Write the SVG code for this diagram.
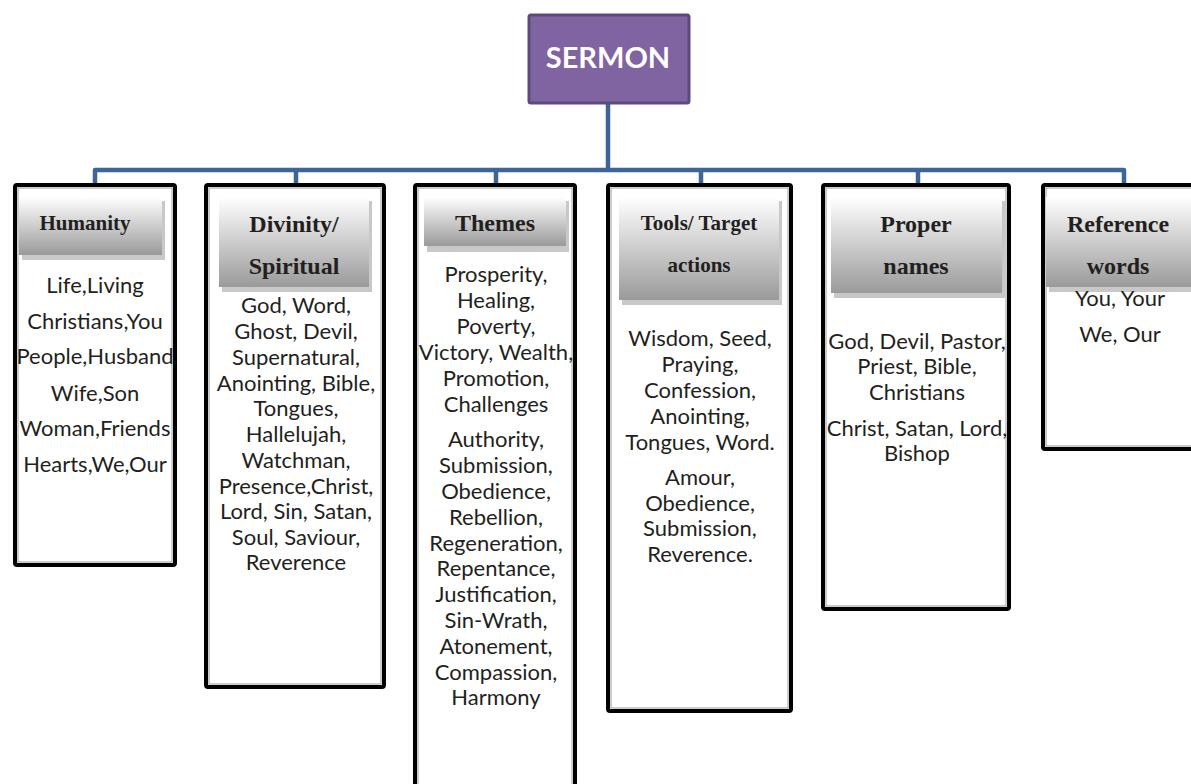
<svg xmlns="http://www.w3.org/2000/svg" width="1191" height="784" viewBox="0 0 1191 784">
<defs>
<linearGradient id="hg" x1="0" y1="0" x2="0" y2="1">
<stop offset="0" stop-color="#ffffff"/>
<stop offset="1" stop-color="#9a9a9a"/>
</linearGradient>
<style>
.box{fill:#fff;stroke:#000;stroke-width:4}
.inner{fill:none;stroke:#999;stroke-width:1}
.hdr{fill:url(#hg)}
.sh{fill:#c8c8c8}
.ht{font-family:"Liberation Serif",serif;font-weight:bold;font-size:24px;fill:#231f20;text-anchor:middle}
.hs{font-size:21px}
.bt{font-family:Lato,"Open Sans",sans-serif;font-size:22px;fill:#231f20;text-anchor:middle}
.con{fill:none;stroke:#3d6697;stroke-width:4.5;stroke-linejoin:round}
</style>
</defs>
<rect width="1191" height="784" fill="#fff"/>
<g id="connectors">
<path class="con" d="M608 104 V170"/>
<path class="con" d="M95 184 V170 H1124 V184"/>
<path class="con" d="M296 170 V184 M496 170 V184 M701 170 V184 M918 170 V184"/>
</g>
<g id="sermon">
<rect x="529" y="15" width="160" height="88" rx="2" fill="#8064a2" stroke="#5c4a7d" stroke-width="3"/>
<text x="608" y="68" font-family="Lato,'Open Sans',sans-serif" font-weight="bold" font-size="29" fill="#fff" text-anchor="middle">SERMON</text>
</g>
<g id="humanity">
<rect class="box" x="15" y="185" width="160" height="380" rx="2"/>
<rect class="inner" x="18" y="188" width="154" height="374"/>
<rect class="sh" x="22" y="201" width="143" height="59"/>
<rect class="hdr" x="19" y="197" width="143" height="58"/>
<text class="ht hs" x="85" y="230">Humanity</text>
<text class="bt" x="95" y="293">Life,Living</text>
<text class="bt" x="95" y="329">Christians,You</text>
<text class="bt" x="95" y="364">People,Husband</text>
<text class="bt" x="95" y="401">Wife,Son</text>
<text class="bt" x="95" y="436">Woman,Friends</text>
<text class="bt" x="95" y="472">Hearts,We,Our</text>
</g>
<g id="divinity">
<rect class="box" x="206" y="185" width="178" height="502" rx="2"/>
<rect class="inner" x="209" y="188" width="172" height="496"/>
<rect class="sh" x="222" y="201" width="150" height="91"/>
<rect class="hdr" x="219" y="197" width="150" height="90"/>
<text class="ht" x="294" y="232">Divinity/</text>
<text class="ht" x="294" y="274">Spiritual</text>
<text class="bt" x="296" y="313">God, Word,</text>
<text class="bt" x="296" y="339">Ghost, Devil,</text>
<text class="bt" x="296" y="365">Supernatural,</text>
<text class="bt" x="296" y="391">Anointing, Bible,</text>
<text class="bt" x="296" y="416">Tongues,</text>
<text class="bt" x="296" y="442">Hallelujah,</text>
<text class="bt" x="296" y="468">Watchman,</text>
<text class="bt" x="296" y="494">Presence,Christ,</text>
<text class="bt" x="296" y="519">Lord, Sin, Satan,</text>
<text class="bt" x="296" y="545">Soul, Saviour,</text>
<text class="bt" x="296" y="570">Reverence</text>
</g>
<g id="themes">
<rect class="box" x="415" y="185" width="160" height="620" rx="2"/>
<rect class="inner" x="418" y="188" width="154" height="614"/>
<rect class="sh" x="427" y="201" width="142" height="51"/>
<rect class="hdr" x="424" y="197" width="142" height="49"/>
<text class="ht" x="495" y="231">Themes</text>
<text class="bt" x="496" y="282">Prosperity,</text>
<text class="bt" x="496" y="308">Healing,</text>
<text class="bt" x="496" y="334">Poverty,</text>
<text class="bt" x="496" y="360">Victory, Wealth,</text>
<text class="bt" x="496" y="386">Promotion,</text>
<text class="bt" x="496" y="412">Challenges</text>
<text class="bt" x="496" y="447">Authority,</text>
<text class="bt" x="496" y="473">Submission,</text>
<text class="bt" x="496" y="499">Obedience,</text>
<text class="bt" x="496" y="525">Rebellion,</text>
<text class="bt" x="496" y="551">Regeneration,</text>
<text class="bt" x="496" y="576">Repentance,</text>
<text class="bt" x="496" y="602">Justification,</text>
<text class="bt" x="496" y="628">Sin-Wrath,</text>
<text class="bt" x="496" y="654">Atonement,</text>
<text class="bt" x="496" y="680">Compassion,</text>
<text class="bt" x="496" y="705">Harmony</text>
</g>
<g id="tools">
<rect class="box" x="608" y="185" width="183" height="526" rx="2"/>
<rect class="inner" x="611" y="188" width="177" height="520"/>
<rect class="sh" x="622" y="201" width="160" height="104"/>
<rect class="hdr" x="619" y="197" width="160" height="103"/>
<text class="ht hs" x="699" y="230">Tools/ Target</text>
<text class="ht hs" x="699" y="272">actions</text>
<text class="bt" x="700" y="346">Wisdom, Seed,</text>
<text class="bt" x="700" y="372">Praying,</text>
<text class="bt" x="700" y="398">Confession,</text>
<text class="bt" x="700" y="424">Anointing,</text>
<text class="bt" x="700" y="450">Tongues, Word.</text>
<text class="bt" x="700" y="485">Amour,</text>
<text class="bt" x="700" y="511">Obedience,</text>
<text class="bt" x="700" y="536">Submission,</text>
<text class="bt" x="700" y="562">Reverence.</text>
</g>
<g id="proper">
<rect class="box" x="823" y="185" width="186" height="424" rx="2"/>
<rect class="inner" x="826" y="188" width="180" height="418"/>
<rect class="sh" x="834" y="201" width="171" height="97"/>
<rect class="hdr" x="831" y="197" width="171" height="96"/>
<text class="ht" x="916" y="232">Proper</text>
<text class="ht" x="916" y="274">names</text>
<text class="bt" x="917" y="349">God, Devil, Pastor,</text>
<text class="bt" x="917" y="374">Priest, Bible,</text>
<text class="bt" x="917" y="400">Christians</text>
<text class="bt" x="917" y="436">Christ, Satan, Lord,</text>
<text class="bt" x="917" y="461">Bishop</text>
</g>
<g id="reference">
<rect class="box" x="1043" y="185" width="160" height="264" rx="2"/>
<rect class="inner" x="1046" y="188" width="154" height="258"/>
<rect class="sh" x="1049" y="201" width="145" height="91"/>
<rect class="hdr" x="1046" y="197" width="145" height="90"/>
<text class="ht" x="1118" y="232">Reference</text>
<text class="ht" x="1118" y="274">words</text>
<text class="bt" x="1120" y="306">You, Your</text>
<text class="bt" x="1120" y="342">We, Our</text>
</g>
</svg>
